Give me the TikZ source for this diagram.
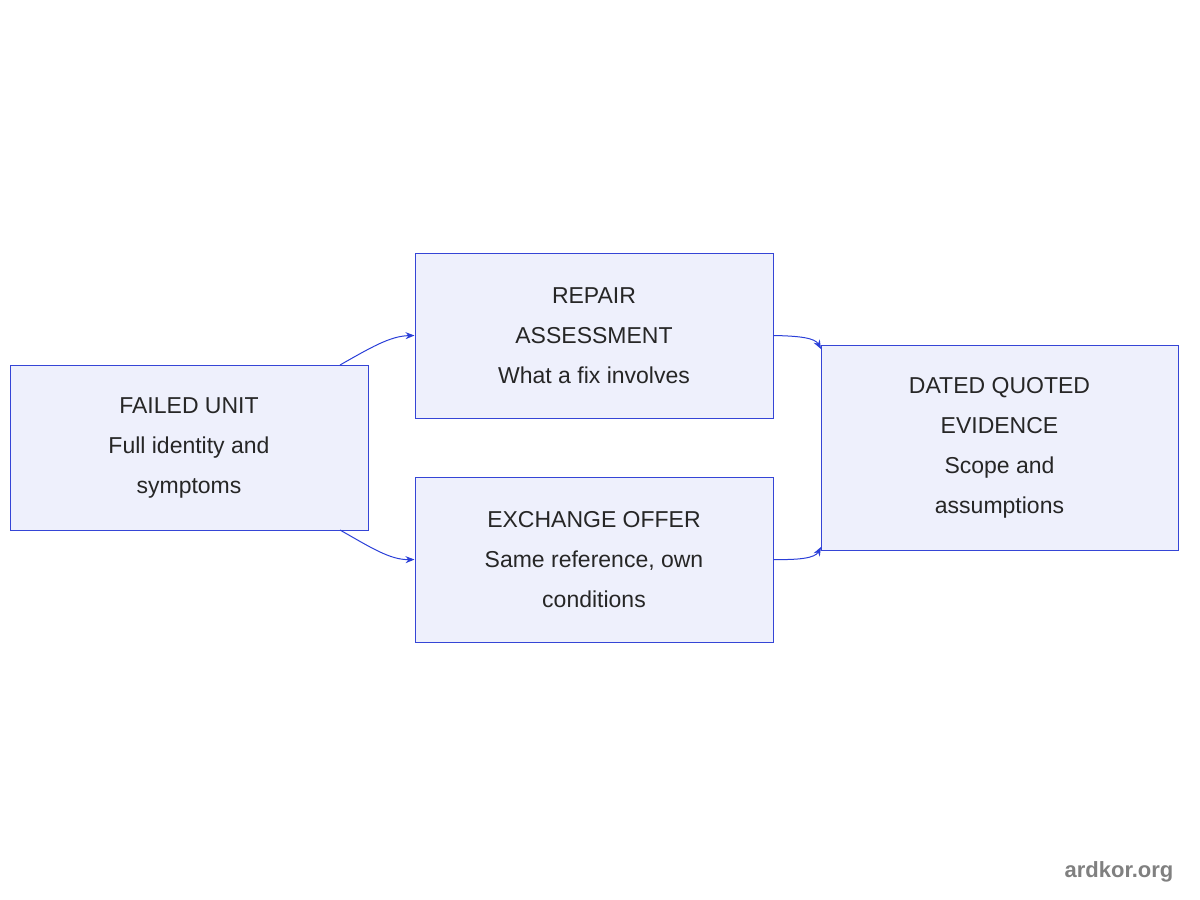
\documentclass[tikz,border=0pt]{standalone}
\usepackage{fontspec}
\setmainfont{Liberation Sans}
\usetikzlibrary{arrows.meta}
\definecolor{bfill}{HTML}{EEF0FC}
\definecolor{bline}{HTML}{3545D6}
\definecolor{eline}{HTML}{2A3FD8}
\begin{document}
\begin{tikzpicture}[x=1pt,y=-1pt,
  box/.style={draw=bline,fill=bfill,line width=1pt,minimum width=358pt,align=center,font=\fontsize{23}{40}\selectfont,text=black!85,inner sep=0pt},
  edge/.style={draw=eline,line width=1pt,-{Stealth[length=9pt,width=7pt]}}]
\useasboundingbox (0,0) rectangle (1200,900);
\node[box,minimum height=165pt] (f) at (189,447.5) {FAILED UNIT\\Full identity and\\symptoms};
\node[box,minimum height=165pt] (r) at (594,335.5) {REPAIR\\ASSESSMENT\\What a fix involves};
\node[box,minimum height=165pt] (e) at (594,559.5) {EXCHANGE OFFER\\Same reference, own\\conditions};
\node[box,minimum height=205pt,minimum width=357pt] (d) at (999.5,447.5) {DATED QUOTED\\EVIDENCE\\Scope and\\assumptions};
\coordinate (f1) at (340,365); \coordinate (f2) at (340,530);
\coordinate (d1) at (821,349); \coordinate (d2) at (821,547);
\draw[edge] (f1) .. controls (370,348) and (390,336) .. (r.west);
\draw[edge] (f2) .. controls (370,547) and (390,560) .. (e.west);
\draw[edge] (r.east) .. controls (800,336) and (815,338) .. (d1);
\draw[edge] (e.east) .. controls (800,560) and (815,558) .. (d2);
\node[font=\bfseries\fontsize{22}{26}\selectfont,text=black!50] (w) at (1119,872) {ardkor.org};
\end{tikzpicture}
\end{document}
